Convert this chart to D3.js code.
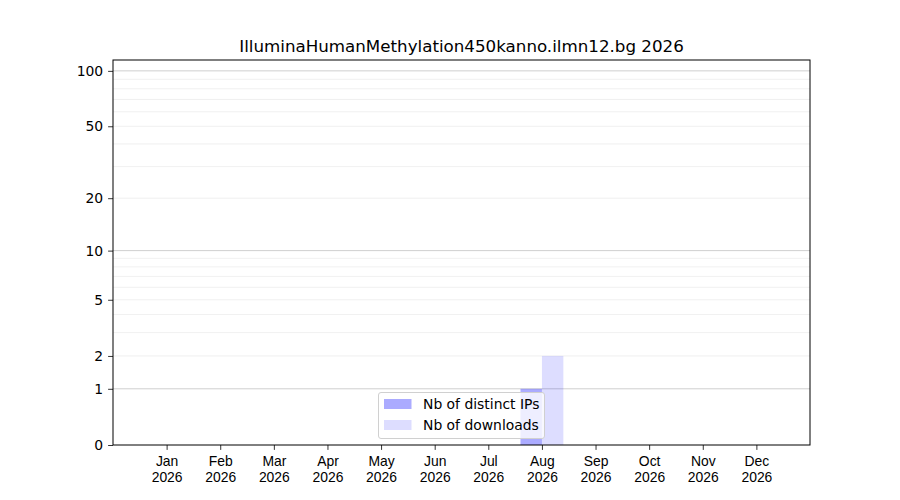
<!DOCTYPE html>
<html><head><meta charset="utf-8">
<script src="https://cdn.jsdelivr.net/npm/d3@7"></script>
<style>body{margin:0;background:#fff}svg{font-family:"DejaVu Sans",sans-serif}</style>
</head><body>
<svg id="c" width="900" height="500"></svg>
<script>
const title = "IlluminaHumanMethylation450kanno.ilmn12.bg 2026";
const months = ["Jan","Feb","Mar","Apr","May","Jun","Jul","Aug","Sep","Oct","Nov","Dec"];
const year = "2026";
const distinctIPs = [0,0,0,0,0,0,0,1,0,0,0,0];
const downloads   = [0,0,0,0,0,0,0,2,0,0,0,0];
const yTickValues = [0,1,2,5,10,20,50,100];
const majorGrid = [1,10,100];
const minorGrid = [2,3,4,5,6,7,8,9,20,30,40,50,60,70,80,90];
const seriesNames = ["Nb of distinct IPs","Nb of downloads"];

const svg = d3.select("#c");
const L=113, R=810, T=60, B=445;
const x = d3.scaleLinear().domain([0,13]).range([L,R]);
const y = d3.scaleSymlog().constant(1).domain([0,114.5]).range([B,T]);

// grid
svg.append("g").selectAll("line").data(minorGrid).join("line")
  .attr("x1",L).attr("x2",R).attr("y1",d=>y(d)).attr("y2",d=>y(d))
  .attr("stroke","#ececec").attr("stroke-width",0.8);
svg.append("g").selectAll("line").data(majorGrid).join("line")
  .attr("x1",L).attr("x2",R).attr("y1",d=>y(d)).attr("y2",d=>y(d))
  .attr("stroke","#cfcfcf").attr("stroke-width",1);

const bw = 0.4;
svg.append("g").selectAll("rect").data(distinctIPs).join("rect")
  .attr("x",(d,i)=>x(i+1-bw)).attr("width",x(bw)-x(0))
  .attr("y",d=>y(d)).attr("height",d=>B-y(d))
  .attr("fill","#0000ff").attr("fill-opacity",0.33);
svg.append("g").selectAll("rect").data(downloads).join("rect")
  .attr("x",(d,i)=>x(i+1)).attr("width",x(bw)-x(0))
  .attr("y",d=>y(d)).attr("height",d=>B-y(d))
  .attr("fill","#0000ff").attr("fill-opacity",0.135);

// axes
const xAxis = d3.axisBottom(x).tickValues(d3.range(1,13)).tickSize(4.9).tickPadding(4).tickFormat("");
const gx = svg.append("g").attr("transform",`translate(0,${B})`).call(xAxis);
gx.select(".domain").remove();
gx.selectAll(".tick line").attr("stroke","#000").attr("stroke-width",0.8);
gx.selectAll(".tick").each(function(d,i){
  const t = d3.select(this).append("text").attr("fill","#000").attr("font-size","13.9px").attr("text-anchor","middle");
  t.append("tspan").attr("x",0).attr("y",21).text(months[i]);
  t.append("tspan").attr("x",0).attr("y",37).text(year);
});
const yAxis = d3.axisLeft(y).tickValues(yTickValues).tickSize(4.9).tickPadding(4.9).tickFormat(d3.format("d"));
const gy = svg.append("g").attr("transform",`translate(${L},0)`).call(yAxis);
gy.select(".domain").remove();
gy.selectAll(".tick line").attr("stroke","#000").attr("stroke-width",0.8);
gy.selectAll(".tick text").attr("font-size","13.9px").attr("fill","#000").attr("font-family","DejaVu Sans");

svg.append("rect").attr("x",L).attr("y",T).attr("width",R-L).attr("height",B-T)
  .attr("fill","none").attr("stroke","#000").attr("stroke-width",1);

svg.append("text").attr("x",(L+R)/2).attr("y",52).attr("text-anchor","middle")
  .attr("font-size","16.7px").attr("fill","#000").text(title);

// legend
const lg = svg.append("g");
lg.append("rect").attr("x",378.5).attr("y",392.5).attr("width",166).attr("height",46).attr("rx",2.5)
  .attr("fill","#fff").attr("fill-opacity",0.8).attr("stroke","#d0d0d0").attr("stroke-width",1);
const lop=[0.33,0.135];
seriesNames.forEach((n,i)=>{
  lg.append("rect").attr("x",384).attr("y",399+i*21).attr("width",27.5).attr("height",10)
    .attr("fill","#0000ff").attr("fill-opacity",lop[i]);
  lg.append("text").attr("x",423).attr("y",409+i*21).attr("font-size","13.9px").attr("fill","#000").text(n);
});
</script>
</body></html>
